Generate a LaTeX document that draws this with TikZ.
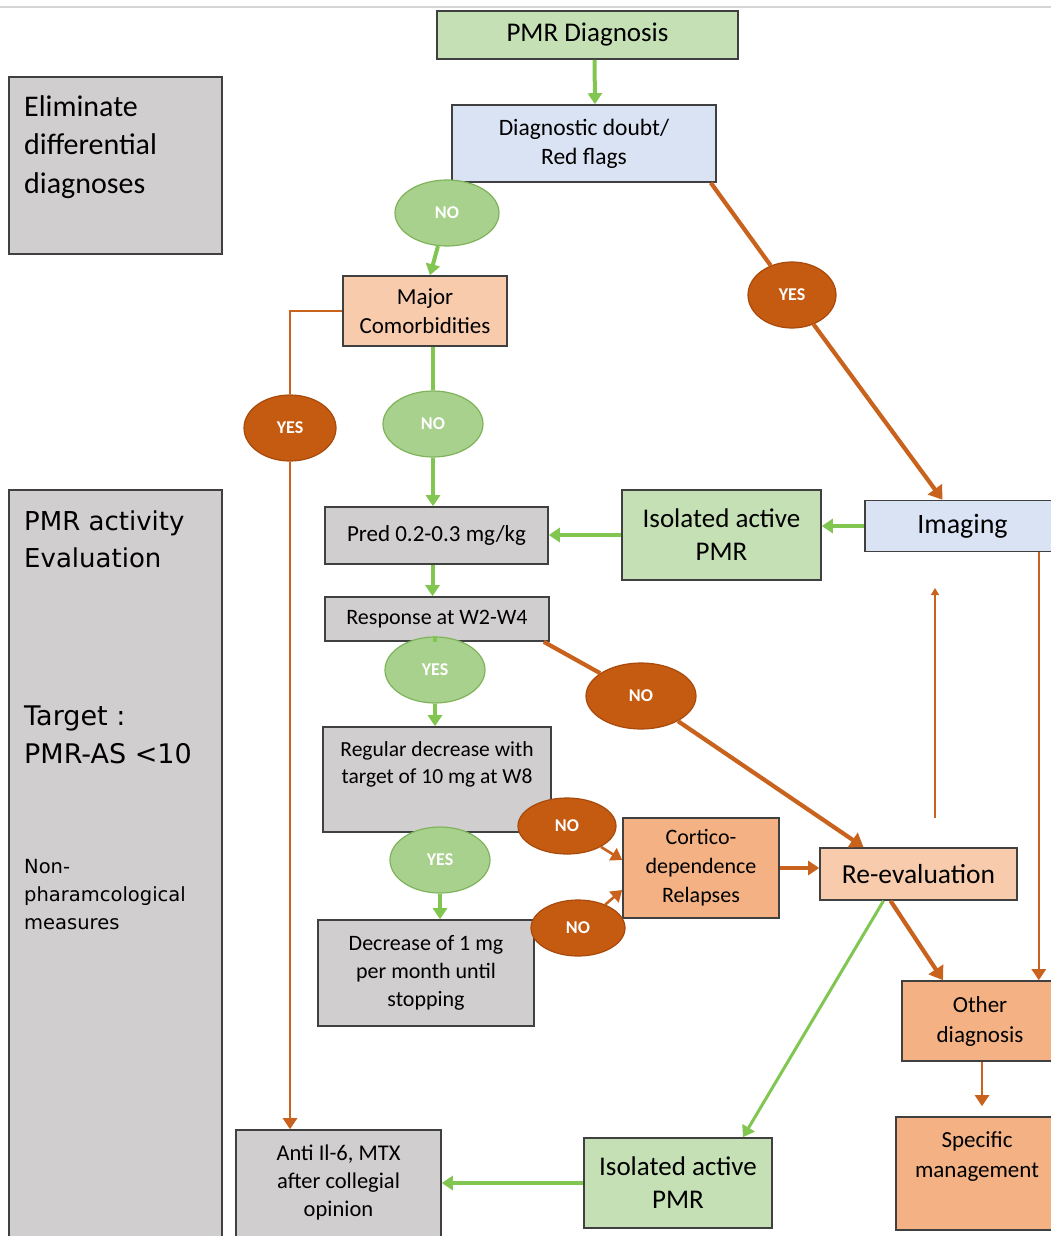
\documentclass[tikz,border=0pt]{standalone}
\usepackage{fontspec}
\setmainfont{Carlito}
\newfontfamily\vfont{DejaVu Sans}
\usetikzlibrary{arrows.meta,shapes.geometric,calc}
\definecolor{gfill}{HTML}{C5E0B4}
\definecolor{bfill}{HTML}{DAE3F3}
\definecolor{grayf}{HTML}{D0CECE}
\definecolor{plight}{HTML}{F8CBAD}
\definecolor{pdark}{HTML}{F4B183}
\definecolor{bord}{HTML}{404040}
\definecolor{egfill}{HTML}{A9D18E}
\definecolor{egdraw}{HTML}{7FB35A}
\definecolor{eofill}{HTML}{C55A11}
\definecolor{eodraw}{HTML}{A84A0C}
\definecolor{garr}{HTML}{80C650}
\definecolor{oarr}{HTML}{C8621C}
\definecolor{topgray}{HTML}{D4D4D4}
\begin{document}
\begin{tikzpicture}[x=1pt,y=-1pt,
  box/.style={draw=bord, line width=1.6pt, inner sep=2pt, align=center},
  sz/.style n args={2}{minimum width=#1pt, minimum height=#2pt},
  fnt/.style n args={2}{font=\fontsize{#1}{#2}\selectfont},
  txt/.style={inner sep=0pt, align=center},
  ell/.style={ellipse, inner sep=0pt, line width=1.2pt, text=white, font=\bfseries\fontsize{18}{20}\selectfont},
  gell/.style={ell, fill=egfill, draw=egdraw},
  oell/.style={ell, fill=eofill, draw=eodraw},
  tip/.style={-{Triangle[length=11pt,width=14pt]}},
  tipbig/.style={-{Triangle[length=13pt,width=17pt]}},
  tipsmall/.style={-{Triangle[length=7pt,width=8pt]}},
  gline/.style={draw=garr, line width=4pt},
  gthin/.style={draw=garr, line width=3pt},
  othick/.style={draw=oarr, line width=4.2pt},
  othin/.style={draw=oarr, line width=2.6pt},
  ohair/.style={draw=oarr, line width=1.3pt},
]
\useasboundingbox (0,0) rectangle (1051,1236);
\fill[white] (0,0) rectangle (1051,1236);
\draw[topgray, line width=1.5pt] (0,7) -- (1051,7);

% left column
\node[box, fill=grayf, sz={213}{177}] (elim) at (115.5,165.5) {};
\node[txt, anchor=north west, align=left, fnt={30}{38.5}] (elimtxt) at (24,95) {Eliminate\\differential\\diagnoses};
\node[box, fill=grayf, sz={213}{770}] (pmract) at (115.5,875) {};
\node[txt, anchor=north west, align=left, font=\vfont\fontsize{26}{37}\selectfont] (acttxt) at (24,511) {PMR activity\\Evaluation};
\node[txt, anchor=north west, align=left, font=\vfont\fontsize{27}{38}\selectfont] (targettxt) at (24,706) {Target :\\PMR-AS <10};
\node[txt, anchor=north west, align=left, font=\vfont\fontsize{19.5}{28}\selectfont] (nontxt) at (24,859) {Non-\\pharamcological\\measures};

% boxes
\node[box, fill=gfill, sz={301}{48}, fnt={27}{30}] (pmrdiag) at (587.5,35) {PMR Diagnosis};
\node[box, fill=bfill, sz={264}{77}, fnt={23.5}{29}] (diag) at (584,143.5) {Diagnostic doubt/\\Red flags};
\node[box, fill=plight, sz={164}{70}, fnt={23}{29}] (major) at (425,311) {Major\\Comorbidities};
\node[box, fill=grayf, sz={223}{57}, fnt={23}{26}] (pred) at (436.5,535.5) {Pred 0.2-0.3 mg/kg};
\node[box, fill=gfill, sz={199}{90}, fnt={27}{33}] (iso1) at (721.5,535) {Isolated active\\PMR};
\node[box, fill=bfill, sz={195}{51}, fnt={28}{32}] (imaging) at (962.5,526) {Imaging};
\node[box, fill=grayf, sz={224}{44}, fnt={22}{24}] (resp) at (437,619) {Response at W2-W4};
\node[box, fill=grayf, sz={228}{105}] (regular) at (437,779.5) {};
\node[txt, fnt={21.5}{27}] (regulartxt) at (437,764) {Regular decrease with\\target of 10 mg at W8};
\node[box, fill=pdark, sz={156}{100}, fnt={22}{29}] (cortico) at (701,868) {Cortico-\\dependence\\Relapses};
\node[box, fill=plight, sz={197}{52}, fnt={27.5}{31}] (reeval) at (918.5,874) {Re-evaluation};
\node[box, fill=grayf, sz={216}{106}, fnt={22}{28}] (decrease) at (426,973) {Decrease of 1 mg\\per month until\\stopping};
\node[box, fill=pdark, sz={156}{80}, fnt={23}{30}] (other) at (980,1021) {Other\\diagnosis};
\node[box, fill=pdark, sz={162}{113}] (specific) at (977,1173.5) {};
\node[txt, fnt={23}{30}] (spectxt) at (977,1157) {Specific\\management};
\node[box, fill=gfill, sz={188}{90}, fnt={27}{33}] (iso2) at (678,1183) {Isolated active\\PMR};
\node[box, fill=grayf, sz={205}{120}] (anti) at (338.5,1190) {};
\node[txt, fnt={22.5}{28}] (antitxt) at (338.5,1182) {Anti Il-6, MTX\\after collegial\\opinion};

% decision ellipses
\node[gell, minimum width=104pt, minimum height=66pt] (no1) at (447,213) {NO};
\node[oell, minimum width=88pt, minimum height=66pt] (yes1) at (792,295) {YES};
\node[oell, minimum width=92pt, minimum height=66pt] (yes2) at (290,428) {YES};
\node[gell, minimum width=100pt, minimum height=66pt] (no2) at (433,424) {NO};
\node[gell, minimum width=100pt, minimum height=66pt] (yes3) at (435,670) {YES};
\node[oell, minimum width=110pt, minimum height=66pt] (no3) at (641,696) {NO};
\node[oell, minimum width=98pt, minimum height=56pt] (no4) at (567,826) {NO};
\node[gell, minimum width=100pt, minimum height=66pt] (yes4) at (440,860) {YES};
\node[oell, minimum width=94pt, minimum height=56pt] (no5) at (578,928) {NO};

% connectors
\draw[gline,tip] ([xshift=7pt]pmrdiag.south) -- ([xshift=11pt]diag.north);
\draw[gline,tip] (no1) -- ([xshift=5pt]major.north);
\draw[othin] (major.west) -| (yes2);
\draw[othin,tip] (yes2) -- (yes2 |- anti.north);
\draw[gline] (major.south -| no2) -- (no2);
\draw[gline,tip] (no2) -- (no2 |- pred.north);
\draw[othick] ([xshift=-6pt]diag.south east) -- (yes1);
\draw[othick,tipbig] (yes1) -- ([xshift=-20pt]imaging.north);
\draw[gline,tip] (imaging.west) -- (imaging.west -| iso1.east);
\draw[gline,tip] (iso1.west) -- (iso1.west -| pred.east);
\draw[gline,tip] ([xshift=-4pt]pred.south) -- ([xshift=-4pt]pred.south |- resp.north);
\draw[gline] (resp.south -| yes3) -- (yes3);
\draw[gline,tip] (yes3) -- (yes3 |- regular.north);
\draw[othick] ([xshift=-6pt]resp.south east) -- (no3);
\draw[othick,tipbig] (no3) -- ([xshift=-55pt]reeval.north);
\draw[gline,tip] (yes4) -- (yes4 |- decrease.north);
\draw[othin,tip] (no4) -- ([yshift=8pt]cortico.west);
\draw[othin,tip] (no5) -- ([yshift=-22pt]cortico.west);
\draw[othick,tip] (cortico.east) -- (cortico.east -| reeval.west);
\coordinate (upa) at (935,818);
\coordinate (upb) at (935,588);
\draw[ohair,tipsmall] (upa) -- (upb);
\draw[othin,tip] ([xshift=-22pt]imaging.south east) -- ([xshift=-22pt]imaging.south east |- other.north);
\draw[othick,tipbig] ([xshift=-28pt]reeval.south) -- ([xshift=-37pt]other.north);
\draw[gthin,tip] ([xshift=-35pt]reeval.south) -- ([xshift=65pt]iso2.north);
\draw[othin,tip,shorten >=10pt] ([xshift=2pt]other.south) -- ([xshift=2pt]other.south |- specific.north);
\draw[gline,tip] (iso2.west) -- (iso2.west -| anti.east);
\end{tikzpicture}
\end{document}
